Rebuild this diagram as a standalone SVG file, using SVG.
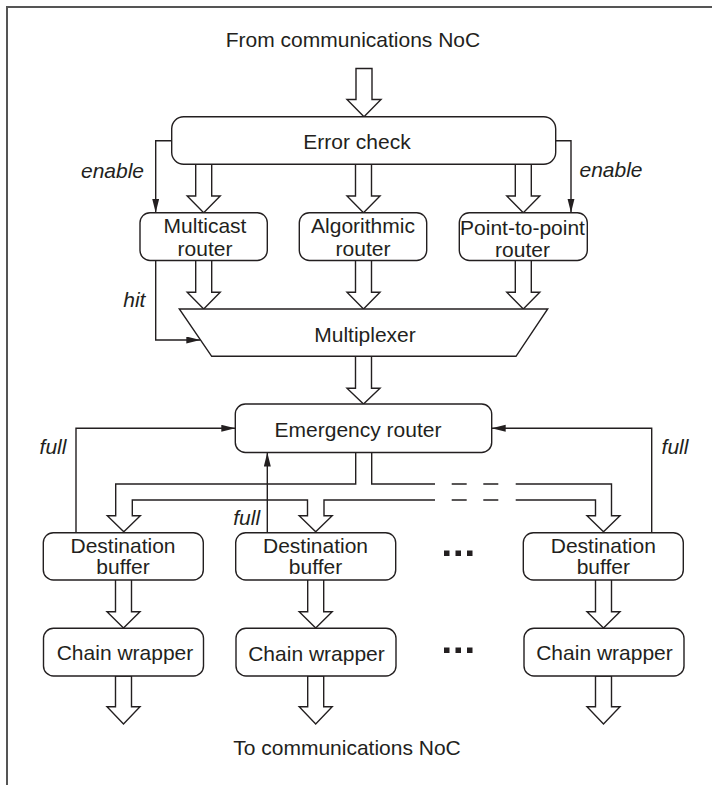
<svg xmlns="http://www.w3.org/2000/svg" width="712" height="785" viewBox="0 0 712 785">
  <style>
    .box { fill: #fff; stroke: #231f20; stroke-width: 1.4; }
    .fat { fill: #fff; stroke: #231f20; stroke-width: 1.4; stroke-linejoin: miter; }
    .bus { fill: none; stroke: #231f20; stroke-width: 1.4; stroke-linejoin: miter; }
    .sig { fill: none; stroke: #231f20; stroke-width: 1.4; marker-end: url(#tip); }
    .lbl { font-family: "Liberation Sans", Arial, sans-serif; font-size: 21px; fill: #231f20; text-anchor: middle; }
    .it { font-style: italic; }
    .dot { fill: #231f20; }
  </style>
  <defs>
    <marker id="tip" markerUnits="userSpaceOnUse" markerWidth="15" markerHeight="8" refX="14" refY="3.5" orient="auto">
      <path d="M0,0 L14,3.5 L0,7 Z" fill="#231f20"/>
    </marker>
  </defs>

  <!-- frame -->
  <path d="M7,785 V7 H712" fill="none" stroke="#555" stroke-width="2"/>

  <text class="lbl" x="353" y="46.7">From communications NoC</text>
  <text class="lbl" x="347" y="755">To communications NoC</text>

  <g id="connectors">
    <!-- wide data paths -->
    <path class="fat" d="M356,68.5 V99.5 H347 L364,116.7 L381,99.5 H372 V68.5 Z"/>
    <path class="fat" d="M195.7,164.3 V196 H187.2 L203.7,212.7 L220.2,196 H211.7 V164.3"/>
    <path class="fat" d="M355.5,164.3 V196 H347 L363.5,212.7 L380,196 H371.5 V164.3"/>
    <path class="fat" d="M515.3,164.3 V196 H506.8 L523.3,212.7 L539.8,196 H531.3 V164.3"/>
    <path class="fat" d="M195.7,260.5 V292.3 H187.2 L203.7,309 L220.2,292.3 H211.7 V260.5"/>
    <path class="fat" d="M355.5,260.5 V292.3 H347 L363.5,309 L380,292.3 H371.5 V260.5"/>
    <path class="fat" d="M515.3,260.5 V292.3 H506.8 L523.3,309 L539.8,292.3 H531.3 V260.5"/>
    <path class="fat" d="M355.5,356.3 V388.3 H347 L363.5,404 L380,388.3 H371.5 V356.3"/>

    <!-- distribution bus from the emergency router -->
    <path class="bus" d="M355.7,452.5 V484 H115.7 V515.7 H107.3 L123.8,531.7 L140.3,515.7 H132.3 V500 H307.5 V515.7 H299.2 L315.7,531.7 L332.2,515.7 H324 V500 H435"/>
    <path class="bus" d="M371.7,452.5 V484 H435"/>
    <path class="bus" d="M451.7,484 H466.7 M483.3,484 H498.3 M451.7,500 H466.7 M483.3,500 H498.3"/>
    <path class="bus" d="M515.7,484 H611.5 V515.7 H620 L603.5,531.7 L587,515.7 H595.5 V500 H515.7"/>

    <!-- buffers to chain wrappers -->
    <path class="fat" d="M115.5,580 V611.7 H107 L123.5,628 L140,611.7 H131.5 V580"/>
    <path class="fat" d="M307.7,580 V611.7 H299.2 L315.7,628 L332.2,611.7 H323.7 V580"/>
    <path class="fat" d="M595.5,580 V611.7 H587 L603.5,628 L620,611.7 H611.5 V580"/>

    <!-- chain wrappers to NoC -->
    <path class="fat" d="M115.5,676 V706.7 H107 L123.5,724 L140,706.7 H131.5 V676 Z"/>
    <path class="fat" d="M307.7,676 V706.7 H299.2 L315.7,724 L332.2,706.7 H323.7 V676 Z"/>
    <path class="fat" d="M595.5,676 V706.7 H587 L603.5,724 L620,706.7 H611.5 V676 Z"/>

    <!-- control signals -->
    <path class="sig" d="M171.7,140.7 H155.7 V212.7"/>
    <path class="sig" d="M555.7,140.7 H571 V212.7"/>
    <path class="sig" d="M155.7,260.5 V340 H200.3"/>
    <path class="sig" d="M76,532.7 V428.3 H235.3"/>
    <path class="sig" d="M651.7,532.7 V428.3 H491.7"/>
    <path class="sig" d="M267.3,532.7 V452.5"/>

    <text class="lbl it" x="112.5" y="177.7">enable</text>
    <text class="lbl it" x="611" y="177">enable</text>
    <text class="lbl it" x="134.3" y="306.7">hit</text>
    <text class="lbl it" x="53" y="454">full</text>
    <text class="lbl it" x="675" y="454">full</text>
    <text class="lbl it" x="246.7" y="525">full</text>
  </g>

  <g id="error-check">
    <rect class="box" x="171.7" y="116.7" width="384" height="47.6" rx="12"/>
    <text class="lbl" x="357" y="149">Error check</text>
  </g>

  <g id="multicast-router">
    <rect class="box" x="140" y="212.7" width="127.3" height="47.8" rx="10"/>
    <text class="lbl" x="205" y="233.3">Multicast</text>
    <text class="lbl" x="205" y="255.7">router</text>
  </g>

  <g id="algorithmic-router">
    <rect class="box" x="299.3" y="212.7" width="127.4" height="47.8" rx="10"/>
    <text class="lbl" x="363" y="233.3">Algorithmic</text>
    <text class="lbl" x="363" y="255.7">router</text>
  </g>

  <g id="p2p-router">
    <rect class="box" x="459.3" y="212.7" width="128" height="47.8" rx="10"/>
    <text class="lbl" x="522.5" y="234.5">Point-to-point</text>
    <text class="lbl" x="522.5" y="256.5">router</text>
  </g>

  <g id="multiplexer">
    <polygon class="box" points="179.3,309 547.7,309 516,356.3 211.7,356.3"/>
    <text class="lbl" x="365" y="342.3">Multiplexer</text>
  </g>

  <g id="emergency-router">
    <rect class="box" x="235.3" y="404" width="256.4" height="48.5" rx="10"/>
    <text class="lbl" x="358" y="436.7">Emergency router</text>
  </g>

  <g id="dest-buffer-1">
    <rect class="box" x="43.3" y="532.7" width="160" height="47.3" rx="10"/>
    <text class="lbl" x="123" y="552.5">Destination</text>
    <text class="lbl" x="123" y="574">buffer</text>
  </g>

  <g id="dest-buffer-2">
    <rect class="box" x="235.7" y="532.7" width="160" height="47.3" rx="10"/>
    <text class="lbl" x="315.5" y="552.5">Destination</text>
    <text class="lbl" x="315.5" y="574">buffer</text>
  </g>

  <g id="dest-buffer-n">
    <rect class="box" x="523.3" y="532.7" width="160" height="47.3" rx="10"/>
    <text class="lbl" x="603.3" y="552.5">Destination</text>
    <text class="lbl" x="603.3" y="574">buffer</text>
  </g>

  <g id="chain-wrapper-1">
    <rect class="box" x="43.5" y="628.3" width="160" height="47.7" rx="10"/>
    <text class="lbl" x="125" y="660">Chain wrapper</text>
  </g>

  <g id="chain-wrapper-2">
    <rect class="box" x="236" y="628.3" width="160" height="47.7" rx="10"/>
    <text class="lbl" x="316.5" y="661">Chain wrapper</text>
  </g>

  <g id="chain-wrapper-n">
    <rect class="box" x="524" y="628.3" width="160" height="47.7" rx="10"/>
    <text class="lbl" x="604.5" y="660">Chain wrapper</text>
  </g>

  <!-- ellipses between columns -->
  <g id="ellipsis">
    <rect class="dot" x="444" y="550.5" width="5.5" height="5.5"/>
    <rect class="dot" x="455.5" y="550.5" width="5.5" height="5.5"/>
    <rect class="dot" x="467" y="550.5" width="5.5" height="5.5"/>
    <rect class="dot" x="444" y="647.5" width="5.5" height="5.5"/>
    <rect class="dot" x="455.5" y="647.5" width="5.5" height="5.5"/>
    <rect class="dot" x="467" y="647.5" width="5.5" height="5.5"/>
  </g>
</svg>
